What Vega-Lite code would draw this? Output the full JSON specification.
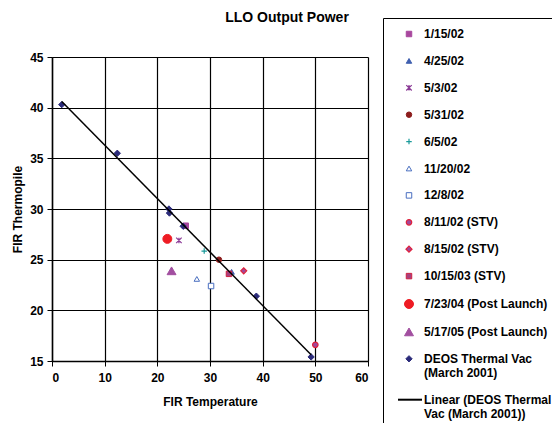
{
  "$schema": "https://vega.github.io/schema/vega-lite/v6.json",
  "width": 316,
  "height": 304,
  "autosize": {"type": "none"},
  "padding": {"left": 52, "top": 57, "right": 184, "bottom": 62},
  "background": "white",
  "config": {
    "font": "Liberation Sans",
    "view": {"stroke": null},
    "axis": {
      "labelFont": "Liberation Sans", "labelFontWeight": "bold", "labelFontSize": 12, "labelColor": "black",
      "titleFont": "Liberation Sans", "titleFontWeight": "bold", "titleFontSize": 12, "titleColor": "black",
      "domainColor": "black", "domainWidth": 1.5, "tickColor": "black", "tickWidth": 1, "tickSize": 5,
      "grid": true, "gridColor": "black", "gridWidth": 1.2, "gridOpacity": 1
    },
    "legend": {
      "labelFont": "Liberation Sans", "labelFontWeight": "bold", "labelFontSize": 12, "labelColor": "black"
    }
  },
  "title": {
    "text": "LLO Output Power",
    "font": "Liberation Sans", "fontSize": 14, "fontWeight": "bold", "color": "black",
    "anchor": "middle", "frame": "group", "dx": 77, "offset": -7
  },
  "data": {
    "values": [
      {"series": "1/15/02", "x": 25.4, "y": 28.35},
      {"series": "4/25/02", "x": 34.1, "y": 23.8},
      {"series": "5/3/02", "x": 24.1, "y": 26.9},
      {"series": "5/31/02", "x": 31.7, "y": 25.0},
      {"series": "6/5/02", "x": 28.9, "y": 25.85},
      {"series": "11/20/02", "x": 27.5, "y": 23.1},
      {"series": "12/8/02", "x": 30.2, "y": 22.4},
      {"series": "8/11/02 (STV)", "x": 50.0, "y": 16.6},
      {"series": "8/15/02 (STV)", "x": 36.4, "y": 23.9},
      {"series": "10/15/03 (STV)", "x": 33.6, "y": 23.6},
      {"series": "7/23/04 (Post Launch)", "x": 21.9, "y": 27.05},
      {"series": "5/17/05 (Post Launch)", "x": 22.7, "y": 23.9},
      {"series": "DEOS Thermal Vac (March 2001)", "x": 1.85, "y": 40.3},
      {"series": "DEOS Thermal Vac (March 2001)", "x": 12.4, "y": 35.5},
      {"series": "DEOS Thermal Vac (March 2001)", "x": 22.2, "y": 30.0},
      {"series": "DEOS Thermal Vac (March 2001)", "x": 22.3, "y": 29.6},
      {"series": "DEOS Thermal Vac (March 2001)", "x": 24.9, "y": 28.3},
      {"series": "DEOS Thermal Vac (March 2001)", "x": 38.8, "y": 21.4},
      {"series": "DEOS Thermal Vac (March 2001)", "x": 49.2, "y": 15.4}
    ]
  },
  "layer": [
    {
      "mark": {"type": "point", "opacity": 1},
      "encoding": {
        "x": {"field": "x", "type": "quantitative", "title": "FIR Temperature",
              "scale": {"domain": [0, 60], "nice": false, "zero": false},
              "axis": {"values": [0, 10, 20, 30, 40, 50, 60], "labelPadding": 6, "titlePadding": 13}},
        "y": {"field": "y", "type": "quantitative", "title": "FIR Thermopile",
              "scale": {"domain": [15, 45], "nice": false, "zero": false},
              "axis": {"values": [15, 20, 25, 30, 35, 40, 45], "labelPadding": 4, "titlePadding": 5}},
        "shape": {"field": "series", "type": "nominal", "title": " ",
          "scale": {
            "domain": ["1/15/02", "4/25/02", "5/3/02", "5/31/02", "6/5/02", "11/20/02", "12/8/02", "8/11/02 (STV)", "8/15/02 (STV)", "10/15/03 (STV)", "7/23/04 (Post Launch)", "5/17/05 (Post Launch)", "DEOS Thermal Vac (March 2001)", "Linear (DEOS Thermal Vac (March 2001))"],
            "range": ["square", "triangle-up", "M-1,-1L1,1M-1,1L1,-1M0,-1L0,1", "circle", "M-1,0L1,0M0,-1L0,1", "triangle-up", "square", "circle", "diamond", "square", "circle", "triangle-up", "diamond", "M-2.2,0L2.6,0"]
          },
          "legend": {
            "orient": "none", "legendX": 331, "legendY": -39, "direction": "vertical",
            "strokeColor": "black", "padding": 4, "rowPadding": 14.9, "labelOffset": 9, "symbolOffset": 16,
            "titleFontSize": 1, "titlePadding": 5,
            "labelLimit": 300,
            "labelExpr": "datum.label == 'DEOS Thermal Vac (March 2001)' ? ['DEOS Thermal Vac', '(March 2001)'] : datum.label == 'Linear (DEOS Thermal Vac (March 2001))' ? ['Linear (DEOS Thermal', 'Vac (March 2001))'] : datum.label",
            "encode": {"labels": {"update": {"lineHeight": {"value": 12.5}}}}
          }
        },
        "fill": {"field": "series", "type": "nominal", "title": " ",
          "scale": {
            "domain": ["1/15/02", "4/25/02", "5/3/02", "5/31/02", "6/5/02", "11/20/02", "12/8/02", "8/11/02 (STV)", "8/15/02 (STV)", "10/15/03 (STV)", "7/23/04 (Post Launch)", "5/17/05 (Post Launch)", "DEOS Thermal Vac (March 2001)", "Linear (DEOS Thermal Vac (March 2001))"],
            "range": ["#A8479E", "#3F5FAF", "transparent", "#8C1C1C", "transparent", "white", "white", "#A0489A", "#A0489A", "#A8407E", "#EE1C24", "#A24FA0", "#2B2B7A", "transparent"]
          }
        },
        "stroke": {"field": "series", "type": "nominal", "title": " ",
          "scale": {
            "domain": ["1/15/02", "4/25/02", "5/3/02", "5/31/02", "6/5/02", "11/20/02", "12/8/02", "8/11/02 (STV)", "8/15/02 (STV)", "10/15/03 (STV)", "7/23/04 (Post Launch)", "5/17/05 (Post Launch)", "DEOS Thermal Vac (March 2001)", "Linear (DEOS Thermal Vac (March 2001))"],
            "range": ["#A8479E", "#3F5FAF", "#8B3A96", "#8C1C1C", "#1A9A9A", "#4A6FC0", "#4A6FC0", "#E0203A", "#E0203A", "#D02040", "#EE1C24", "#A24FA0", "#2B2B7A", "black"]
          }
        },
        "size": {"field": "series", "type": "nominal", "title": " ",
          "scale": {
            "type": "ordinal",
            "domain": ["1/15/02", "4/25/02", "5/3/02", "5/31/02", "6/5/02", "11/20/02", "12/8/02", "8/11/02 (STV)", "8/15/02 (STV)", "10/15/03 (STV)", "7/23/04 (Post Launch)", "5/17/05 (Post Launch)", "DEOS Thermal Vac (March 2001)", "Linear (DEOS Thermal Vac (March 2001))"],
            "range": [30, 30, 30, 30, 30, 30, 30, 30, 36, 30, 80, 80, 40, 100]
          }
        },
        "strokeWidth": {"field": "series", "type": "nominal", "title": " ",
          "scale": {
            "type": "ordinal",
            "domain": ["1/15/02", "4/25/02", "5/3/02", "5/31/02", "6/5/02", "11/20/02", "12/8/02", "8/11/02 (STV)", "8/15/02 (STV)", "10/15/03 (STV)", "7/23/04 (Post Launch)", "5/17/05 (Post Launch)", "DEOS Thermal Vac (March 2001)", "Linear (DEOS Thermal Vac (March 2001))"],
            "range": [1, 1, 1.2, 1, 1.2, 1, 1, 1.2, 1.2, 1, 1, 1, 1, 2]
          }
        }
      }
    },
    {
      "transform": [
        {"filter": "datum.series == 'DEOS Thermal Vac (March 2001)'"},
        {"regression": "y", "on": "x"}
      ],
      "mark": {"type": "line", "color": "black", "strokeWidth": 1.5},
      "encoding": {
        "x": {"field": "x", "type": "quantitative"},
        "y": {"field": "y", "type": "quantitative"}
      }
    }
  ]
}
